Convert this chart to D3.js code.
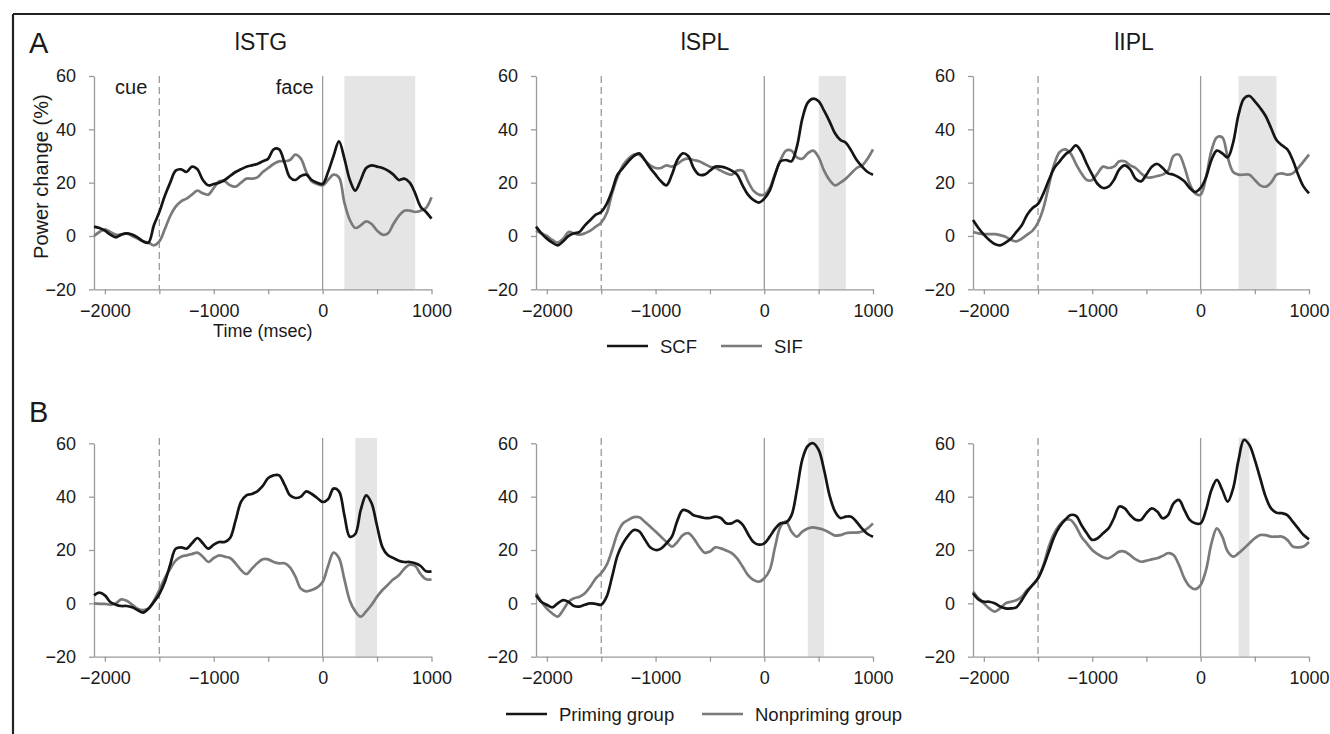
<!DOCTYPE html>
<html>
<head>
<meta charset="utf-8">
<script src="https://cdn.jsdelivr.net/npm/d3@7"></script>
<style>
  body { margin: 0; background: #fff; }
  svg text { font-family: "Liberation Sans", Arial, sans-serif; fill: #1a1a1a; }
</style>
</head>
<body>
<svg id="chart" width="1330" height="734"></svg>
<script>
// sample times (msec)
const times = [
  -2100, -2050, -2000, -1950, -1900, -1850, -1800, -1750, -1700, -1650,
  -1600, -1550, -1500, -1450, -1400, -1350, -1300, -1250, -1200, -1150,
  -1100, -1050, -1000, -950, -900, -850, -800, -750, -700, -650,
  -600, -550, -500, -450, -400, -350, -300, -250, -200, -150,
  -100, -50, 0, 50, 100, 150, 200, 250, 300, 350,
  400, 450, 500, 550, 600, 650, 700, 750, 800, 850,
  900, 950, 1000
];

const regions = ["lSTG", "lSPL", "lIPL"];

// row A : SCF vs SIF
const stgSCF = [
  3.5, 3, 2, 0.5, -0.5, 0.5, 1, 0.5, -0.5, -2,
  -2.5, 4, 9, 15, 20, 24.5, 25, 24, 26, 25,
  21, 19, 19.5, 20, 21, 22.5, 24, 25, 26, 26.5,
  27, 28, 29, 32.5, 32.5, 27.5, 22, 21, 22.5, 23,
  21, 20, 19.5, 24, 30, 35.5, 29, 21, 17, 21,
  25.5, 26.5, 26, 25.5, 24.5, 23, 21, 21.5, 20, 16,
  11, 9, 6.5
];
const stgSIF = [
  0, 1.5, 2.5, 1.5, 0.5, 0.5, 1, 0, -1, -2,
  -2.5, -3.5, -2, 2.5, 7.5, 11, 13, 14, 15.5, 17,
  16, 15.5, 18, 20.5, 20.5, 19, 18.5, 20, 21.5, 21.5,
  22, 24, 25.5, 27, 28, 28, 28.5, 30.5, 29, 24,
  20.5, 19.5, 19, 21, 23, 22, 12.5, 6, 3, 4,
  5.5, 4.5, 2, 0.5, 1, 4.5, 7.5, 9.5, 9.5, 9,
  9.5, 10.5, 14.5
];
const splSCF = [
  3.5, 1, -1, -2.5, -3.5, -2, 0, 1, 1.5, 4,
  6, 8, 9, 12, 17, 23, 25.5, 28, 30, 31,
  28.5, 25.5, 23, 20.5, 19, 23, 28.5, 31, 30, 25.5,
  23, 23, 24.5, 26, 26, 25.5, 24.5, 23, 19, 15.5,
  13.5, 12.5, 14, 17, 23, 28, 28.5, 28, 33.5, 44,
  50, 51.5, 50.5, 47, 43, 38.5, 36, 35, 32, 28.5,
  26, 24, 23
];
const splSIF = [
  2, 1, 0, -1.5, -2.5, -1, 1.5, 1, 0.5, 1,
  2, 3.5, 5, 8.5, 16, 22, 26.5, 29, 30.5, 30.5,
  28.5, 26.5, 25.5, 25.5, 26.5, 26, 27, 28.5, 29, 28.5,
  28, 27, 26, 25.5, 24.5, 23.5, 23, 24.5, 24.5, 20.5,
  17, 15.5, 15.5, 18, 23.5, 28.5, 32, 32, 29.5, 29,
  31, 32, 29.5, 24.5, 21, 19, 20, 21.5, 23.5, 25.5,
  26.5, 29, 32.5
];
const iplSCF = [
  6, 3, 0.5, -1.5, -3, -3.5, -2.5, -1, 1.5, 4,
  8, 10.5, 12, 16, 21, 25.5, 28, 30.5, 32, 34,
  31.5, 27, 23, 19.5, 18, 18.5, 21, 25, 26.5, 25,
  21.5, 20.5, 23, 26, 27, 25.5, 23.5, 23, 22, 20.5,
  18, 16.5, 18, 22, 28.5, 32, 31, 29.5, 35, 45.5,
  51.5, 52.5, 50.5, 48, 45, 40.5, 36, 34, 32.5, 28.5,
  23, 18.5, 16
];
const iplSIF = [
  1.5, 1, 0.7, 0.7, 0.7, 0.3, -0.3, -1.5, -2, -1,
  0.5, 2, 5, 10.5, 19, 27, 31.5, 32.5, 31, 27,
  23.5, 21, 21, 23.5, 26, 25.5, 26, 28, 28, 26.5,
  25.5, 23.5, 22, 22, 22.5, 23, 24.5, 30, 30.5, 26,
  19.5, 16, 15.5, 22, 32, 37, 37, 29.5, 24, 23,
  23, 23, 21, 19, 18.5, 20, 23, 23.5, 23, 23.5,
  25.5, 28, 30.5
];

// row B : Priming vs Nonpriming
const stgPrim = [
  3, 4, 3, 0.5, -0.5, -1, -1, -1.5, -2.5, -3.5,
  -2, 0.5, 3.5, 8, 14.5, 20.5, 21, 20.5, 22.5, 24.5,
  22.5, 20.5, 22, 23, 23, 24.5, 31, 38, 40.5, 41,
  42, 44, 47, 48, 48, 44.5, 40.5, 39.5, 40, 42,
  41, 39.5, 38, 39, 43, 42, 33, 25, 26, 35,
  40.5, 37.5, 29, 21, 18, 17, 16, 15.5, 15.5, 15,
  14, 12, 12
];
const stgNon = [
  0, -0.2, -0.2, -0.5, 0, 1.5, 1, -0.5, -2, -2.5,
  -2, 1, 5, 9.5, 13, 16, 17.5, 18, 18.5, 19,
  17.5, 15.5, 17, 18, 17.5, 17, 15, 12.5, 11, 13,
  15, 16.5, 16.5, 15.5, 15, 15, 13.5, 10, 5.5, 4.5,
  5, 6, 8, 14, 19, 17, 9, 1, -3, -5,
  -3, -0.5, 2.5, 5, 7, 9, 10.5, 13, 14.5, 14,
  11, 9, 9
];
const splPrim = [
  3, 0.5, -0.5, -1.5, 0, 1.2, 0.5, -1, -1.2, -0.5,
  0, -0.2, -0.5, 2.5, 10, 18, 22.5, 25.5, 27.5, 27,
  24, 21, 20, 20.5, 22.5, 25, 31, 35, 34.5, 33,
  32.5, 32, 32, 32.5, 32, 30, 30, 31, 29.5, 26,
  23, 22, 22.5, 25, 28, 30, 30.3, 33, 42.5, 54,
  59, 60, 57.5, 50, 40.5, 34.5, 32, 32.5, 32.5, 30.5,
  28, 26, 25
];
const splNon = [
  3.8, 0.6, -2, -3.8, -5, -2.5, 0.6, 1.9, 2.5, 3.8,
  6.3, 9.4, 11.3, 14.4, 20, 26.3, 30, 31.3, 32.3, 32.3,
  30.6, 28.8, 26.9, 25, 23, 21.3, 23, 25.6, 26.3, 24.4,
  21.3, 19, 19.4, 21, 20.6, 19.8, 18.8, 16.9, 13.8, 10.6,
  8.8, 8.1, 9.4, 12.5, 21.3, 28.8, 30.6, 26.9, 25, 26.9,
  28.1, 28.5, 28.1, 27.5, 26.5, 25.4, 25.6, 26.3, 26.5, 26.5,
  26.9, 28.1, 30
];
const iplPrim = [
  3.8, 1.5, 0.6, 0.6, 0, -1.2, -1.9, -1.9, -1.5, 1.2,
  4.4, 6.9, 9.4, 13.8, 19.4, 25, 28.8, 31.3, 33.1, 32.8,
  29.4, 26.3, 23.8, 24.4, 26.3, 28.1, 31.9, 36.3, 35.6, 33.1,
  31.3, 31.3, 33.8, 35.6, 34.4, 31.9, 33.1, 37.5, 38.8, 35,
  31.3, 30, 30, 35, 42.5, 46.3, 42.5, 38.1, 43.1, 53.8,
  61.3, 59.4, 53.8, 46.9, 40, 35.6, 34, 33.8, 33.1, 30.6,
  28.1, 25.6, 24
];
const iplNon = [
  4.4, 1.9, 0, -1.9, -3.1, -1.9, 0, 0.6, 1.2, 2.5,
  5, 6.9, 9.4, 14.4, 21.3, 26.3, 29.4, 31.3, 31.3, 28.8,
  25, 22.5, 20, 18.5, 17.3, 16.9, 18.1, 19.4, 19.4, 18.1,
  16.5, 15.6, 16, 16.5, 16.9, 17.8, 18.8, 18.1, 14.4, 9.4,
  6.3, 5.3, 6.9, 12.5, 22.5, 28.1, 25, 19.4, 17.5, 18.8,
  20.6, 22.5, 24.4, 25.6, 25.6, 25, 25, 25, 23.8, 21.3,
  21, 21.3, 23
];

// significant windows (msec)
const windowsA = [[200, 850], [500, 750], [350, 700]];
const windowsB = [[300, 500], [400, 550], [350, 450]];

const rowA = [[stgSCF, stgSIF], [splSCF, splSIF], [iplSCF, iplSIF]];
const rowB = [[stgPrim, stgNon], [splPrim, splNon], [iplPrim, iplNon]];

const svg = d3.select("#chart");

// layout
const colX = [[94, 431.5], [536, 873], [973, 1309]];
const rowY = [[76, 289.3], [443.3, 656.7]];
const titleX = [261, 705, 1134];
const cBlack = "#151515", cGray = "#7a7a7a", cAxis = "#9a9a9a";

// frame
svg.append("line").attr("x1", 13).attr("x2", 1330).attr("y1", 14).attr("y2", 14)
  .attr("stroke", "#222").attr("stroke-width", 2.2);
svg.append("line").attr("x1", 13).attr("x2", 13).attr("y1", 14).attr("y2", 734)
  .attr("stroke", "#222").attr("stroke-width", 2.2);

function drawPanel(row, col, series, win) {
  const x = d3.scaleLinear().domain([-2100, 1000]).range(colX[col]);
  const y = d3.scaleLinear().domain([-20, 60]).range([rowY[row][1], rowY[row][0]]);
  const top = row === 0 ? 60 : 62;
  const g = svg.append("g");

  g.append("rect")
    .attr("x", x(win[0])).attr("width", x(win[1]) - x(win[0]))
    .attr("y", y(top)).attr("height", y(-20) - y(top))
    .attr("fill", "#e5e5e5");

  // cue (dashed) and face (solid) markers
  g.append("line").attr("x1", x(-1500)).attr("x2", x(-1500))
    .attr("y1", y(top)).attr("y2", y(-20))
    .attr("stroke", cAxis).attr("stroke-width", 1.3).attr("stroke-dasharray", "7,4");
  g.append("line").attr("x1", x(0)).attr("x2", x(0))
    .attr("y1", y(top)).attr("y2", y(-20))
    .attr("stroke", cAxis).attr("stroke-width", 1.3);

  const xAxis = d3.axisBottom(x)
    .tickValues([-2000, -1500, -1000, -500, 0, 500, 1000])
    .tickFormat(d => d % 1000 === 0 ? d3.format("")(d) : "")
    .tickSize(5).tickSizeOuter(0).tickPadding(10);
  const yAxis = d3.axisLeft(y)
    .tickValues([-20, 0, 20, 40, 60])
    .tickSize(5).tickSizeOuter(0).tickPadding(13);

  const gx = g.append("g").attr("transform", `translate(0,${y(-20)})`).call(xAxis);
  const gy = g.append("g").attr("transform", `translate(${x(-2100)},0)`).call(yAxis);
  [gx, gy].forEach(a => {
    a.attr("font-family", null).attr("font-size", null);
    a.selectAll("path, line").attr("stroke", cAxis).attr("stroke-width", 1.3);
    a.selectAll("text").attr("fill", "#1a1a1a").style("font-size", "18px");
  });

  const line = d3.line()
    .x((d, i) => x(times[i]))
    .y(d => y(d))
    .curve(d3.curveCatmullRom.alpha(0.5));

  g.append("path").datum(series[1]).attr("d", line)
    .attr("fill", "none").attr("stroke", cGray).attr("stroke-width", 2.7);
  g.append("path").datum(series[0]).attr("d", line)
    .attr("fill", "none").attr("stroke", cBlack).attr("stroke-width", 2.7);

  if (row === 0) {
    svg.append("text").attr("x", titleX[col]).attr("y", 50)
      .attr("text-anchor", "middle").style("font-size", "23px").text(regions[col]);
  }
  if (row === 0 && col === 0) {
    svg.append("text").attr("x", x(-1500) - 12).attr("y", 94)
      .attr("text-anchor", "end").style("font-size", "20px").text("cue");
    svg.append("text").attr("x", x(0) - 9).attr("y", 94)
      .attr("text-anchor", "end").style("font-size", "20px").text("face");
    svg.append("text").attr("x", (colX[0][0] + colX[0][1]) / 2).attr("y", 337)
      .attr("text-anchor", "middle").style("font-size", "18px").text("Time (msec)");
    svg.append("text")
      .attr("transform", `translate(48,${(rowY[0][0] + rowY[0][1]) / 2 - 6}) rotate(-90)`)
      .attr("text-anchor", "middle").style("font-size", "20px").text("Power change (%)");
  }
}

rowA.forEach((s, i) => drawPanel(0, i, s, windowsA[i]));
rowB.forEach((s, i) => drawPanel(1, i, s, windowsB[i]));

// panel letters
svg.append("text").attr("x", 29).attr("y", 53).style("font-size", "29px").text("A");
svg.append("text").attr("x", 29).attr("y", 422).style("font-size", "29px").text("B");

// legends
function legend(items, y) {
  items.forEach(it => {
    svg.append("line").attr("x1", it.x).attr("x2", it.x + 41).attr("y1", y).attr("y2", y)
      .attr("stroke", it.color).attr("stroke-width", 2.7);
    svg.append("text").attr("x", it.x + 53).attr("y", y + 6.5)
      .style("font-size", "18.5px").text(it.label);
  });
}
legend([{x: 607, color: cBlack, label: "SCF"}, {x: 721, color: cGray, label: "SIF"}], 346);
legend([{x: 506, color: cBlack, label: "Priming group"}, {x: 702, color: cGray, label: "Nonpriming group"}], 714);
</script>
</body>
</html>
